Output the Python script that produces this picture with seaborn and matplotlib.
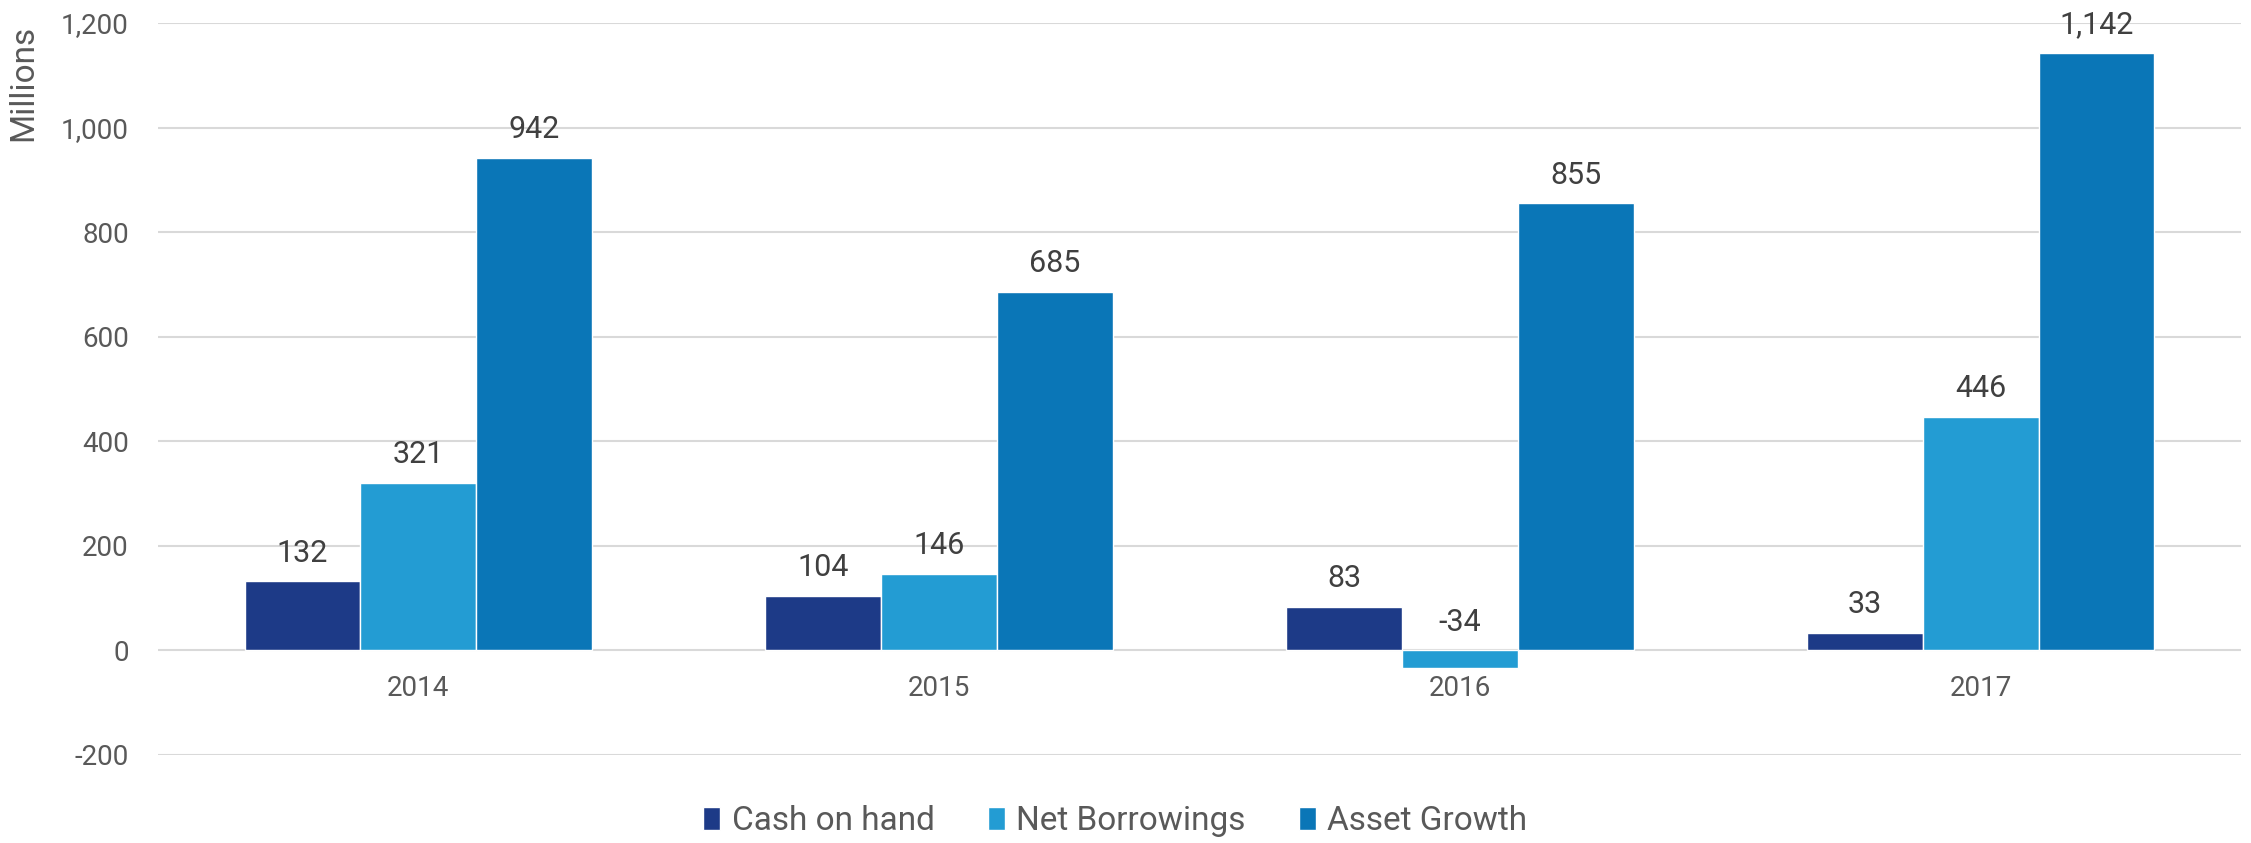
import pandas as pd
import seaborn as sns
import matplotlib.pyplot as plt

years = ["2014", "2015", "2016", "2017"]
cash_on_hand = [132, 104, 83, 33]
net_borrowings = [321, 146, -34, 446]
asset_growth = [942, 685, 855, 1142]
series_names = ["Cash on hand", "Net Borrowings", "Asset Growth"]
colors = ["#1d3a87", "#239cd3", "#0a76b7"]

df = pd.DataFrame({
    "year": years * 3,
    "series": [s for s in series_names for _ in years],
    "value": cash_on_hand + net_borrowings + asset_growth,
})

sns.set_theme(style="white")
plt.rcParams["font.family"] = ["Roboto", "DejaVu Sans"]
text_color = "#595959"

fig = plt.figure(figsize=(22.51, 8.43), dpi=100)
ax = fig.add_axes([158 / 2251, 0.1044, 2083 / 2251, 0.8683])

sns.barplot(data=df, x="year", y="value", hue="series", order=years,
            hue_order=series_names, palette=colors, saturation=1,
            width=0.667, ax=ax)

ax.set_ylim(-200, 1200)
ax.set_xlim(-0.5, 3.5)
ax.set_yticks(range(-200, 1201, 200))
ax.set_yticklabels([f"{v:,}" for v in range(-200, 1201, 200)])
ax.yaxis.grid(True, color="#d9d9d9", linewidth=1.5)
ax.set_axisbelow(True)
for s in ax.spines.values():
    s.set_visible(False)
ax.spines["bottom"].set_position(("data", 0))

ax.tick_params(axis="y", length=0, pad=21, labelsize=20, labelcolor=text_color)
ax.tick_params(axis="x", length=0, pad=18, labelsize=20, labelcolor=text_color)
ax.set_xlabel("")
ax.set_ylabel("Millions", fontsize=24, color=text_color)
ax.yaxis.set_label_coords(-0.057, 0.918)

# value labels above each bar (negative ones sit above the zero line)
for cont in ax.containers:
    for p in cont:
        h = p.get_height()
        ax.annotate(f"{h:,.0f}", (p.get_x() + p.get_width() / 2, max(h, 0)),
                    xytext=(0, 10), textcoords="offset points",
                    ha="center", va="bottom", fontsize=22, color="#404040")

handles, labels = ax.get_legend_handles_labels()
ax.get_legend().remove()
fig.legend(handles, labels, loc="center", bbox_to_anchor=(0.4955, 0.026),
           ncol=3, frameon=False, fontsize=24, labelcolor=text_color,
           handlelength=0.5, handleheight=0.7, handletextpad=0.35,
           columnspacing=1.6)

plt.savefig("out.png", dpi=100)
